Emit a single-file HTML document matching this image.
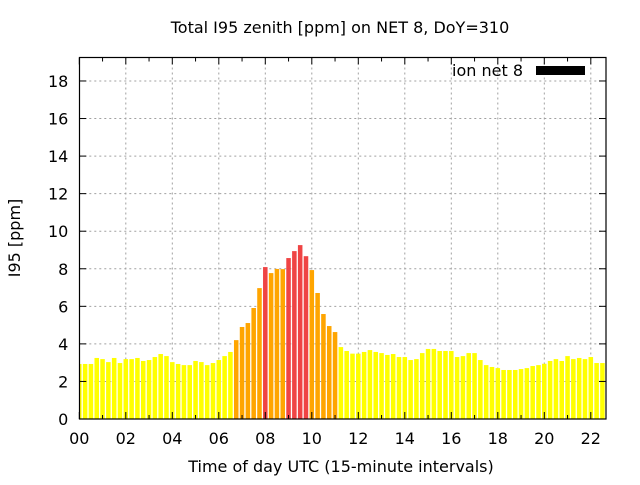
<!DOCTYPE html>
<html><head><meta charset="utf-8"><style>
body{margin:0;background:#fff}
svg text{font-family:"DejaVu Sans","Liberation Sans",sans-serif;fill:#000}
</style></head><body>
<svg id="chart" width="640" height="480" viewBox="0 0 640 480" xmlns="http://www.w3.org/2000/svg">
<rect width="640" height="480" fill="#fff"/>
<text x="340" y="33" font-size="16" text-anchor="middle">Total I95 zenith [ppm] on NET 8, DoY=310</text>
<g id="grid"></g>
<g id="bars"></g>
<g id="axes"></g>
<rect x="79.5" y="57.5" width="526.5" height="361.5" fill="none" stroke="#000" stroke-width="1.2"/>
<text transform="translate(20,238) rotate(-90)" font-size="16" text-anchor="middle">I95 [ppm]</text>
<text x="341" y="472" font-size="16" text-anchor="middle">Time of day UTC (15-minute intervals)</text>
<g>
<text x="523" y="76" font-size="16" text-anchor="end">ion net 8</text>
<rect x="536" y="66" width="49" height="9" fill="#000"/>
</g>
</svg>
<script>
const hours = [];
const values = [2.93,2.93,2.93,3.25,3.19,3.03,3.25,2.98,3.19,3.19,3.25,3.09,3.14,3.30,3.46,3.35,3.03,2.93,2.87,2.87,3.09,3.03,2.87,2.98,3.14,3.35,3.57,4.20,4.90,5.11,5.91,6.97,8.09,7.77,7.99,7.98,8.57,8.94,9.26,8.67,7.93,6.71,5.59,4.95,4.63,3.83,3.62,3.48,3.48,3.57,3.67,3.57,3.51,3.41,3.46,3.30,3.30,3.14,3.19,3.51,3.73,3.73,3.62,3.62,3.62,3.30,3.35,3.51,3.51,3.14,2.87,2.77,2.71,2.61,2.61,2.61,2.66,2.71,2.82,2.87,2.94,3.09,3.19,3.09,3.35,3.19,3.25,3.19,3.30,2.98,2.98,3.03];
for (let i = 0; i < values.length; i++) hours.push(i * 0.25);
const yTicks = [0,2,4,6,8,10,12,14,16,18];
const xTickLabels = ["00","02","04","06","08","10","12","14","16","18","20","22"];
const xTickHours = [0,2,4,6,8,10,12,14,16,18,20,22];

const L = 79.3, R = 606, T = 57.5, B = 419;
const xMin = 0, pxPerHour = 23.25, yMax = 19.25;
const xs = h => L + (h - xMin) * pxPerHour;
const ys = v => B - v / yMax * (B - T);
const NS = "http://www.w3.org/2000/svg";
function mk(tag, attrs, parent) { const e = document.createElementNS(NS, tag); for (const k in attrs) e.setAttribute(k, attrs[k]); parent.appendChild(e); return e; }
const grid = document.getElementById('grid'), barsG = document.getElementById('bars'), axes = document.getElementById('axes');

yTicks.forEach(v => {
  const y = ys(v);
  if (v > 0) {
    const g = mk('line', {x1: L, x2: R, y1: y, y2: y, stroke: '#a0a0a0', 'stroke-dasharray': '2,3', 'stroke-width': 1}, grid);
    
    
  }
  mk('line', {x1: L, x2: L + 7, y1: y, y2: y, stroke: '#000'}, axes);
  mk('line', {x1: R - 7, x2: R, y1: y, y2: y, stroke: '#000'}, axes);
  const t = mk('text', {x: L - 11, y: y + 6, 'font-size': 16, 'text-anchor': 'end'}, axes);
  t.textContent = v;
  
  
});
for (let h = 0; h <= 22; h++) {
  const x = xs(h);
  const len = h % 2 === 0 ? 7 : 4;
  mk('line', {x1: x, x2: x, y1: B, y2: B - len, stroke: '#000'}, axes);
  mk('line', {x1: x, x2: x, y1: T, y2: T + len, stroke: '#000'}, axes);
}
xTickHours.forEach((h, i) => {
  const x = xs(h);
  if (h > 0) {
    const g = mk('line', {x1: x, x2: x, y1: T, y2: B, stroke: '#a0a0a0', 'stroke-dasharray': '2,3', 'stroke-width': 1}, grid);
    
    
  }
  const t = mk('text', {x: x, y: 444, 'font-size': 16, 'text-anchor': 'middle'}, axes);
  t.textContent = xTickLabels[i];
  
  
});
const bw = 0.195 * pxPerHour;
hours.forEach((h, i) => {
  const v = values[i];
  let x0 = xs(h) - bw / 2, x1 = xs(h) + bw / 2;
  x0 = Math.max(x0, L); x1 = Math.min(x1, R);
  if (x1 <= x0) return;
  const col = v >= 8 ? '#ef4444' : (v >= 4 ? '#ffa500' : '#ffff00');
  const r = mk('rect', {x: x0, y: ys(v), width: x1 - x0, height: B - ys(v), fill: col}, barsG);
  
  
});
</script>
</body></html>
